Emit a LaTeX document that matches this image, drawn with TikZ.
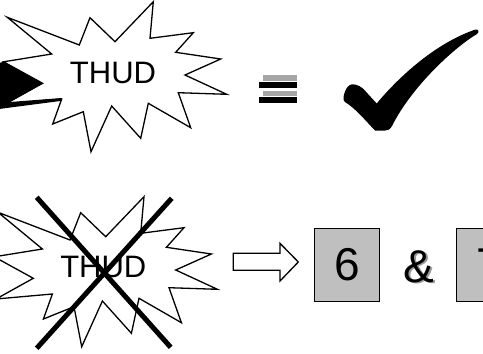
\documentclass[tikz,border=0pt]{standalone}
\usepackage{fontspec}
\setmainfont{Liberation Sans}
\tikzset{
  starline/.style={draw=black, line width=1.3pt, fill=white, line join=miter},
  thud/.style={font=\fontsize{31}{36}\selectfont, inner sep=0pt},
  numbox/.style={draw=black, line width=1.5pt, fill=black!25, minimum width=65pt, minimum height=73.4pt, inner sep=0pt, font=\fontsize{46}{52}\selectfont},
  bigtxt/.style={font=\fontsize{46}{52}\selectfont, inner sep=0pt},
  crossline/.style={line width=5pt, black},
  hollowarrow/.style={draw=black, line width=1.3pt, fill=white, line join=miter},
  thudstar/.pic={
    \path[starline] (7.3,17.3) -- (79.3,45) -- (90,17.7) -- (115,41.7) -- (153.3,1.7) -- (150,38.3) -- (193.3,32.7) -- (175.7,52.3) -- (220.7,59) -- (185,75) -- (226.7,94.3) -- (178.3,92.7) -- (190.7,127.7) -- (148.3,103.3) -- (140.7,138.3) -- (111.7,106) -- (91,151.7) -- (83.3,111.7) -- (52.7,124) -- (61.7,99) -- (5.3,104) -- (42.6,83.3) -- (3.5,61.8) -- (51.7,54) -- cycle;
  }
}
\begin{document}
\begin{tikzpicture}[x=1pt, y=-1pt]
\clip (0,0) rectangle (483,354);
\fill[white] (0,0) rectangle (483,354);
% top star with black arrow
\pic at (0,0) {thudstar};
\fill[black] (-1,63) -- (3.5,61.8) -- (42.6,83.3) -- (10,102) -- (61.7,98) -- (61.7,100.8) -- (-1,109) -- cycle;
\node[thud] (thud1) at (113,72.5) {THUD};
% equals sign with shadow
\fill[black!35] (263,74.5) rectangle (296.7,81);
\fill[black!35] (263,91.3) rectangle (296.7,96.3);
\fill[black] (259,82.3) rectangle (296.7,88.3);
\fill[black] (259,96.7) rectangle (296.7,102.7);
% check mark
\fill[black] (343.5,97) .. controls (344.5,92) and (346,88) .. (349,85.5) .. controls (352,83) and (358,84.5) .. (363,88.5) -- (376.7,103.5) .. controls (392,85) and (430,45) .. (475.5,29.5) .. controls (478.5,28.8) and (479.5,32.5) .. (477,34) .. controls (455,47) and (412,86) .. (392,126) .. controls (390,129.5) and (388,130.5) .. (385,130.5) -- (375,130.5) .. controls (365,120) and (355,108) .. (345,102) .. controls (343.5,101) and (343.2,99) .. (343.5,97) -- cycle;
% bottom star, crossed out
\pic at (-9.3,195) {thudstar};
\node[thud] (thud2) at (103.3,267) {THUD};
\coordinate (xa1) at (36.7,197.3);
\coordinate (xa2) at (170.7,347.3);
\coordinate (xb1) at (171.7,198.3);
\coordinate (xb2) at (36.7,348.3);
\draw[crossline] (xa1) -- (xa2);
\draw[crossline] (xb1) -- (xb2);
% hollow arrow
\path[hollowarrow] (233.3,253.3) -- (280,253.3) -- (280,243.3) -- (298.3,262) -- (280,281) -- (280,270.3) -- (233.3,270.3) -- cycle;
% boxes
\node[numbox] (six) at (346.8,265) {6};
\node[bigtxt, text=black!40] (ampsh) at (420.5,268.2) {\&};
\node[bigtxt] (amp) at (419,266.7) {\&};
\node[numbox] (seven) at (489.2,265) {7};
\end{tikzpicture}
\end{document}
